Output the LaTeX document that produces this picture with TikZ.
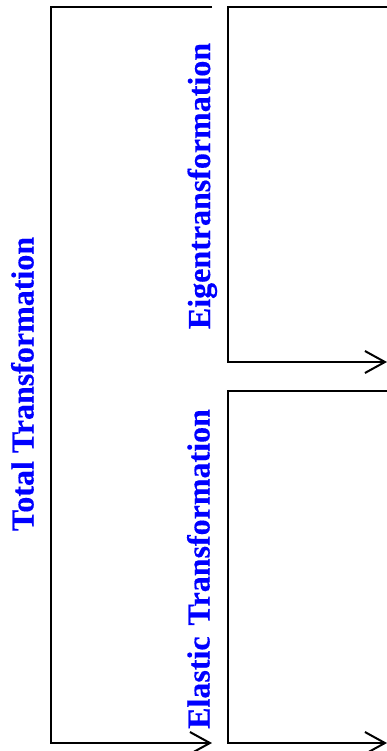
\documentclass[tikz,border=0pt]{standalone}
\usepackage{fontspec}
\setmainfont{Liberation Serif}[BoldFont={Liberation Serif Bold},BoldFeatures={FakeBold=0.4}]
\usetikzlibrary{arrows.meta}
\tikzset{
  bracketline/.style={line width=2pt, line join=miter},
  flowarrow/.style={bracketline, -{Straight Barb[length=20pt,width=22pt,line width=2pt]}},
  phase/.style={rotate=90, anchor=base, text=blue, inner sep=0pt,
    font=\bfseries\fontsize{32}{38}\selectfont},
}
\begin{document}
\begin{tikzpicture}[x=1pt,y=-1pt]
  \useasboundingbox (0,0) rectangle (387,751);

  % corner points of the three brackets
  \coordinate (totTop)   at (212,7.5);
  \coordinate (totTL)    at (51,7.5);
  \coordinate (totBL)    at (51,743);
  \coordinate (totEnd)   at (212,743);

  \coordinate (eigTop)   at (387,7.5);
  \coordinate (eigTL)    at (227.5,7.5);
  \coordinate (eigBL)    at (227.5,362);
  \coordinate (eigEnd)   at (387,362);

  \coordinate (elaTop)   at (387,391);
  \coordinate (elaTL)    at (227.5,391);
  \coordinate (elaBL)    at (227.5,743);
  \coordinate (elaEnd)   at (387,743);

  % brackets with the arrow at their lower end
  \draw[flowarrow] (totTop) -- (totTL) -- (totBL) -- (totEnd);
  \draw[flowarrow] (eigTop) -- (eigTL) -- (eigBL) -- (eigEnd);
  \draw[flowarrow] (elaTop) -- (elaTL) -- (elaBL) -- (elaEnd);

  % labels
  \node[phase] (total) at (33.5,384) {Total Transformation};
  \node[phase] (eigen) at (210,186) {Eigentransformation};
  \node[phase] (elast) at (209.5,569) {Elastic\hspace{3pt} Transformation};
\end{tikzpicture}
\end{document}
